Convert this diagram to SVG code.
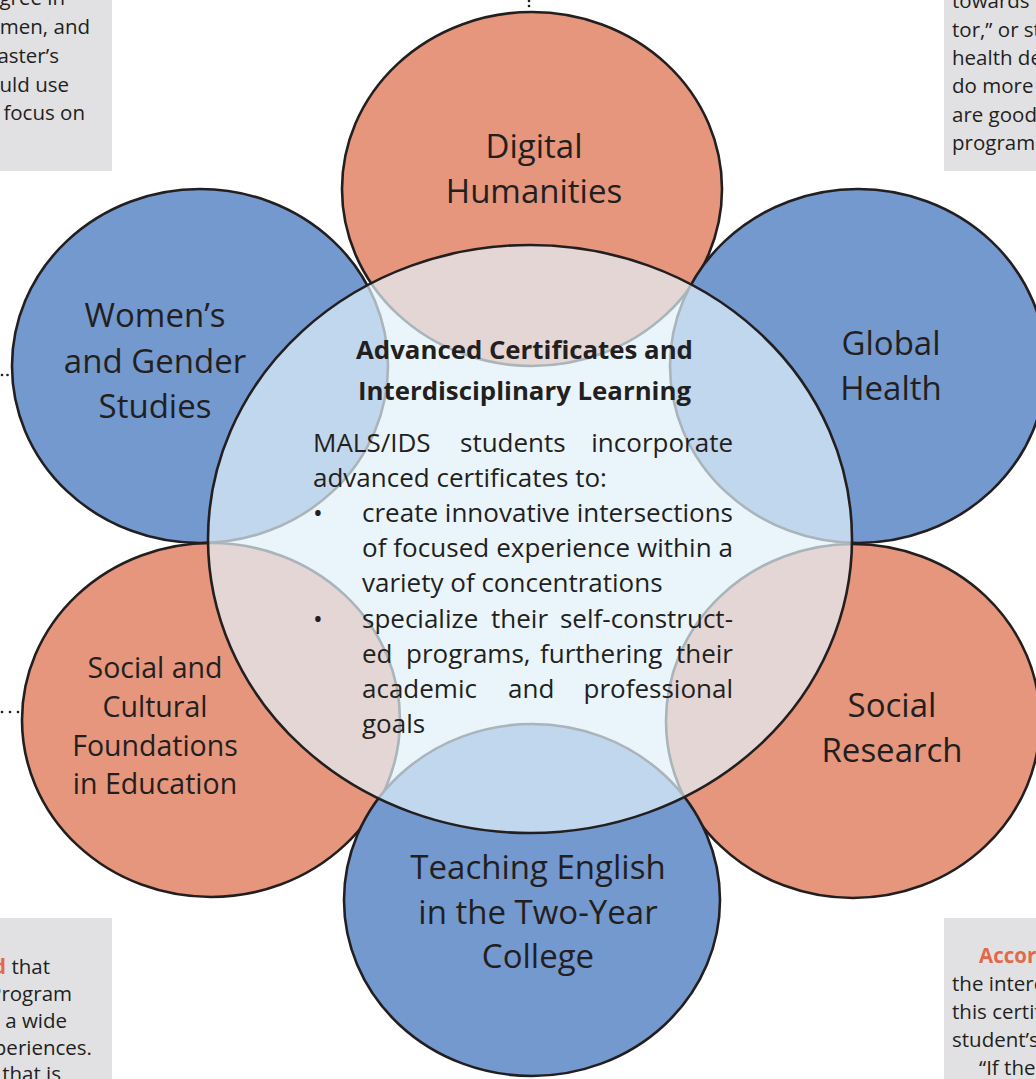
<svg xmlns="http://www.w3.org/2000/svg" width="1036" height="1079" viewBox="0 0 1036 1079">
<style>
.box{fill:#e1e1e3}
.side{font-family:"Open Sans","Noto Sans",sans-serif;font-size:20.5px;fill:#231f20}
.red{font-weight:700;fill:#e2694a}
.blue{fill:#7399cf;stroke:#231f20;stroke-width:2.6}
.orange{fill:#e5967c;stroke:#231f20;stroke-width:2.6}
.lbl{font-family:"Open Sans","Noto Sans",sans-serif;font-size:33px;fill:#231f20;text-anchor:middle}
.lbl2{font-family:"Open Sans","Noto Sans",sans-serif;font-size:28.5px;fill:#231f20;text-anchor:middle}
.title{font-family:"Open Sans","Noto Sans",sans-serif;font-size:25.8px;font-weight:700;fill:#231f20;text-anchor:middle}
.body{font-family:"Open Sans","Noto Sans",sans-serif;font-size:26px;fill:#231f20}
.end{text-anchor:end}
.dot{fill:#231f20}
</style>

<g id="side-boxes">
  <rect class="box" x="0" y="0" width="112" height="171"/>
  <text class="side end" x="65" y="5">gree in</text>
  <text class="side end" x="90" y="33.5">men, and</text>
  <text class="side end" x="59" y="62.5">aster’s</text>
  <text class="side end" x="69" y="91.5">uld use</text>
  <text class="side end" x="85" y="120">focus on</text>

  <rect class="box" x="944" y="0" width="92" height="171"/>
  <text class="side" x="952" y="8">towards</text>
  <text class="side" x="952" y="36.5">tor,” or st</text>
  <text class="side" x="952" y="65">health de</text>
  <text class="side" x="952" y="93.3">do more</text>
  <text class="side" x="952" y="121.7">are good</text>
  <text class="side" x="952" y="150">program</text>

  <rect class="box" x="0" y="918" width="112" height="161"/>
  <text class="side end" x="50" y="974"><tspan class="red">d</tspan> that</text>
  <text class="side end" x="72" y="1001">Program</text>
  <text class="side end" x="67" y="1028">n a wide</text>
  <text class="side end" x="92" y="1055">xperiences.</text>
  <text class="side end" x="61" y="1081">k that is</text>

  <rect class="box" x="944" y="918" width="92" height="161"/>
  <text class="side red" x="979" y="963">Accord</text>
  <text class="side" x="952" y="991">the interc</text>
  <text class="side" x="952" y="1019">this certif</text>
  <text class="side" x="952" y="1047">student’s</text>
  <text class="side" x="979" y="1075">“If the</text>
</g>

<g id="connectors">
  <circle class="dot" cx="529" cy="1" r="1.3"/>
  <circle class="dot" cx="529" cy="6" r="1.3"/>
  <circle class="dot" cx="2" cy="375" r="1.3"/>
  <circle class="dot" cx="7.5" cy="375" r="1.3"/>
  <circle class="dot" cx="2" cy="712" r="1.3"/>
  <circle class="dot" cx="10" cy="712" r="1.3"/>
  <circle class="dot" cx="18" cy="712" r="1.3"/>
</g>

<g id="node-digital-humanities">
  <ellipse class="orange" cx="532" cy="189" rx="190" ry="177"/>
  <text class="lbl" x="534" y="158">Digital</text>
  <text class="lbl" x="534" y="202.5">Humanities</text>
</g>
<g id="node-womens-gender-studies">
  <ellipse class="blue" cx="200" cy="366" rx="188" ry="177"/>
  <text class="lbl" x="155" y="327">Women’s</text>
  <text class="lbl" x="155" y="372.5">and Gender</text>
  <text class="lbl" x="155" y="418">Studies</text>
</g>
<g id="node-global-health">
  <ellipse class="blue" cx="858" cy="366" rx="188" ry="177"/>
  <text class="lbl" x="891" y="355">Global</text>
  <text class="lbl" x="891" y="400">Health</text>
</g>
<g id="node-social-cultural-foundations">
  <ellipse class="orange" cx="211" cy="720" rx="189" ry="177"/>
  <text class="lbl2" x="155" y="678">Social and</text>
  <text class="lbl2" x="155" y="717">Cultural</text>
  <text class="lbl2" x="155" y="755.5">Foundations</text>
  <text class="lbl2" x="155" y="794">in Education</text>
</g>
<g id="node-social-research">
  <ellipse class="orange" cx="853" cy="721" rx="187" ry="177"/>
  <text class="lbl" x="892" y="717">Social</text>
  <text class="lbl" x="892" y="762">Research</text>
</g>
<g id="node-teaching-english">
  <ellipse class="blue" cx="532" cy="900" rx="188" ry="176"/>
  <text class="lbl" x="538" y="879">Teaching English</text>
  <text class="lbl" x="538" y="923.5">in the Two-Year</text>
  <text class="lbl" x="538" y="968">College</text>
</g>

<g id="node-center">
  <ellipse cx="530" cy="539" rx="322" ry="294" fill="#e2f1f9" fill-opacity="0.71" stroke="#231f20" stroke-width="2.6"/>
  <text class="title" x="524.5" y="359">Advanced Certificates and</text>
  <text class="title" x="524.5" y="400">Interdisciplinary Learning</text>
  <text class="body" x="313" y="451.5">MALS/IDS</text>
  <text class="body" x="460" y="451.5">students</text>
  <text class="body end" x="733" y="451.5">incorporate</text>
  <text class="body" x="313" y="486.5">advanced certificates to:</text>
  <text class="body" x="313" y="522">•</text>
  <text class="body" x="362" y="522" textLength="371">create innovative intersections</text>
  <text class="body" x="362" y="557" textLength="371">of focused experience within a</text>
  <text class="body" x="362" y="592">variety of concentrations</text>
  <text class="body" x="313" y="627.5">•</text>
  <text class="body" x="362" y="627.5">specialize</text>
  <text class="body" x="491" y="627.5">their</text>
  <text class="body end" x="733" y="627.5">self-construct-</text>
  <text class="body" x="362" y="663">ed</text>
  <text class="body" x="406" y="663">programs,</text>
  <text class="body" x="540" y="663">furthering</text>
  <text class="body end" x="733" y="663">their</text>
  <text class="body" x="362" y="698">academic</text>
  <text class="body" x="508" y="698">and</text>
  <text class="body end" x="733" y="698">professional</text>
  <text class="body" x="362" y="733">goals</text>
</g>
</svg>
